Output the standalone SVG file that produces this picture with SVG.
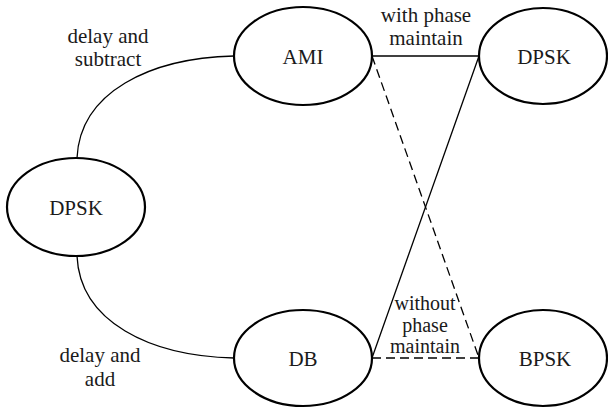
<svg xmlns="http://www.w3.org/2000/svg" width="608" height="408" viewBox="0 0 608 408" font-family="Liberation Serif, Times New Roman, serif">
<style>
.node ellipse{fill:#fff;stroke:#000;stroke-width:2.2}
text{font-size:21px;fill:#1a1a1a;text-anchor:middle}
.small{font-size:20px}
.c path,.c line{fill:none;stroke:#000;stroke-width:1.3}
.dash{stroke-dasharray:9 5}
</style>
<rect width="608" height="408" fill="#fff"/>
<g class="c" id="connectors">
<path d="M77,158 C80,92 150,58 234,56"/>
<path d="M77,256 C80,322 150,356 234,358"/>
<line x1="372" y1="56" x2="479" y2="56"/>
<line x1="479" y1="56" x2="372" y2="358"/>
<line class="dash" x1="372" y1="56" x2="479" y2="358"/>
<line class="dash" x1="372" y1="358" x2="479" y2="358"/>
</g>
<g id="labels">
<text x="108" y="43">delay and</text>
<text x="108" y="66">subtract</text>
<text x="100" y="362">delay and</text>
<text x="100" y="386">add</text>
<text x="426" y="22">with phase</text>
<text x="426" y="45">maintain</text>
<text class="small" x="425" y="310">without</text>
<text class="small" x="425" y="332">phase</text>
<text class="small" x="425" y="353">maintain</text>
</g>
<g class="node" id="n-dpsk-left"><ellipse cx="76" cy="207" rx="69" ry="49"/><text x="76" y="215">DPSK</text></g>
<g class="node" id="n-ami"><ellipse cx="303" cy="56" rx="69" ry="49"/><text x="303" y="64">AMI</text></g>
<g class="node" id="n-dpsk-right"><ellipse cx="543" cy="56" rx="64" ry="48"/><text x="544" y="64">DPSK</text></g>
<g class="node" id="n-db"><ellipse cx="303" cy="358" rx="69" ry="48"/><text x="303" y="366">DB</text></g>
<g class="node" id="n-bpsk"><ellipse cx="543" cy="358" rx="64" ry="48"/><text x="545" y="366">BPSK</text></g>
</svg>
